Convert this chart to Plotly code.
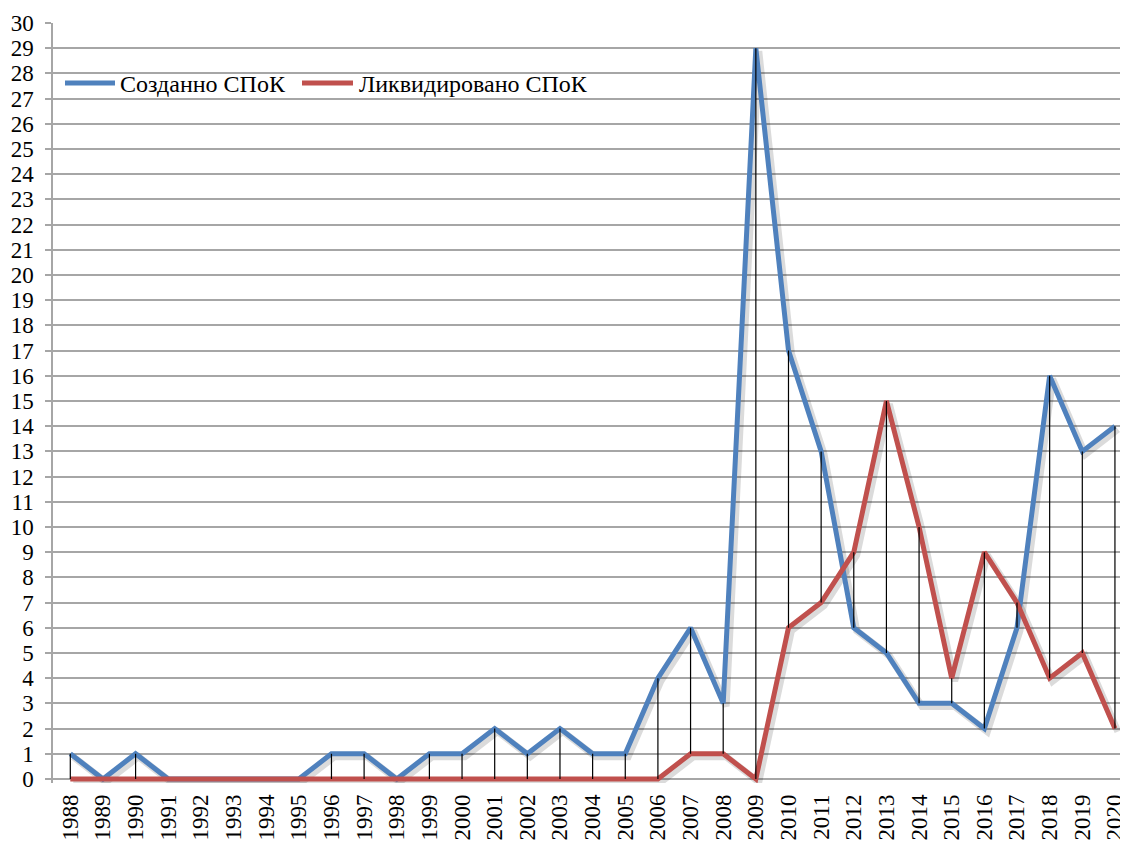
import plotly.graph_objects as go

years = [str(y) for y in range(1988, 2021)]
created = [1, 0, 1, 0, 0, 0, 0, 0, 1, 1, 0, 1, 1, 2, 1, 2, 1, 1, 4, 6, 3, 29,
           17, 13, 6, 5, 3, 3, 2, 6, 16, 13, 14]
liquidated = [0, 0, 0, 0, 0, 0, 0, 0, 0, 0, 0, 0, 0, 0, 0, 0, 0, 0, 0, 1, 1, 0,
              6, 7, 9, 15, 10, 4, 9, 7, 4, 5, 2]
y_ticks = list(range(0, 31))

name_created = "Созданно СПоК"
name_liquidated = "Ликвидировано СПоК"

FONT = "Liberation Serif, Times New Roman, serif"
BLUE = "#4F81BD"
RED = "#C0504D"

# the page body has an 8px margin: figure origin is at (8, 8) in the window
OFF = 8
W, H = 1120, 835
L, R, T, B = 45, 0, 15, 60
pw, ph = W - L - R, H - T - B

x_range = [-0.53, 32.4]
y_range = [-0.16, 30]
# shadow offset (in axis units, ~3px right/down)
sx, sy = 0.09, 0.12

# high-low lines
hl_x, hl_y = [], []
for yr, a, b in zip(years, created, liquidated):
    if a != b:
        hl_x += [yr, yr, None]
        hl_y += [min(a, b), max(a, b), None]

fig = go.Figure()
# shadows (overlay 2, shifted ranges)
for vals in (created, liquidated):
    fig.add_trace(go.Scatter(x=years, y=vals, mode="lines", xaxis="x2", yaxis="y2",
                             line=dict(color="rgba(0,0,0,0.14)", width=7),
                             showlegend=False, hoverinfo="skip"))
# main lines (overlay 3)
fig.add_trace(go.Scatter(x=years, y=created, mode="lines", name=name_created,
                         xaxis="x3", yaxis="y3", showlegend=False,
                         line=dict(color=BLUE, width=5)))
fig.add_trace(go.Scatter(x=years, y=liquidated, mode="lines", name=name_liquidated,
                         xaxis="x3", yaxis="y3", showlegend=False,
                         line=dict(color=RED, width=5)))
fig.add_trace(go.Scatter(x=hl_x, y=hl_y, mode="lines", xaxis="x3", yaxis="y3",
                         line=dict(color="black", width=1.2),
                         showlegend=False, hoverinfo="skip"))
# base axes carry ticks and grid
fig.add_trace(go.Scatter(x=years, y=[None] * len(years), mode="lines",
                         showlegend=False, hoverinfo="skip"))

def px_x(p):
    return (p - OFF - L) / pw

def px_y(p):
    return (H - B - (p - OFF)) / ph

# manual legend
legend_items = [(name_created, BLUE, 65, 115, 118), (name_liquidated, RED, 302, 353, 357)]
shapes, annotations = [], []
for name, col, x0, x1, tx in legend_items:
    shapes.append(dict(type="line", xref="paper", yref="paper",
                       x0=px_x(x0), x1=px_x(x1), y0=px_y(83), y1=px_y(83),
                       line=dict(color=col, width=5)))
    annotations.append(dict(text=name, xref="paper", yref="paper",
                            x=px_x(tx), y=px_y(84), xanchor="left", yanchor="middle",
                            showarrow=False,
                            font=dict(family=FONT, size=24, color="black")))

hidden = dict(visible=False, showgrid=False, zeroline=False, fixedrange=True)
fig.update_layout(
    width=W, height=H,
    margin=dict(l=L, r=R, t=T, b=B),
    paper_bgcolor="white", plot_bgcolor="white",
    font=dict(family=FONT, size=23, color="black"),
    showlegend=False,
    shapes=shapes, annotations=annotations,
    xaxis2=dict(type="category", categoryorder="array", categoryarray=years,
                range=[x_range[0] - sx, x_range[1] - sx], overlaying="x", **hidden),
    yaxis2=dict(range=[y_range[0] + sy, y_range[1] + sy], overlaying="y",
                anchor="x2", **hidden),
    xaxis3=dict(type="category", categoryorder="array", categoryarray=years,
                range=x_range, overlaying="x", **hidden),
    yaxis3=dict(range=y_range, overlaying="y", anchor="x3", **hidden),
)
fig.layout.xaxis.update(type="category", categoryorder="array", categoryarray=years,
                        range=x_range, automargin=False,
                        tickangle=-90, showgrid=False, showline=False, ticks="",
                        ticklabelstandoff=6,
                        tickfont=dict(family=FONT, size=23, color="black"))
fig.layout.yaxis.update(range=y_range, tickvals=y_ticks,
                        ticktext=[str(v) for v in y_ticks], automargin=False,
                        showgrid=True, gridcolor="#A6A6A6", gridwidth=1.5,
                        showline=True, linecolor="#A6A6A6", linewidth=1.5,
                        ticks="outside", ticklen=6, tickcolor="#A6A6A6", tickwidth=1.5,
                        zeroline=False, ticklabelstandoff=7,
                        tickfont=dict(family=FONT, size=23, color="black"))

fig.write_html("out.html")
